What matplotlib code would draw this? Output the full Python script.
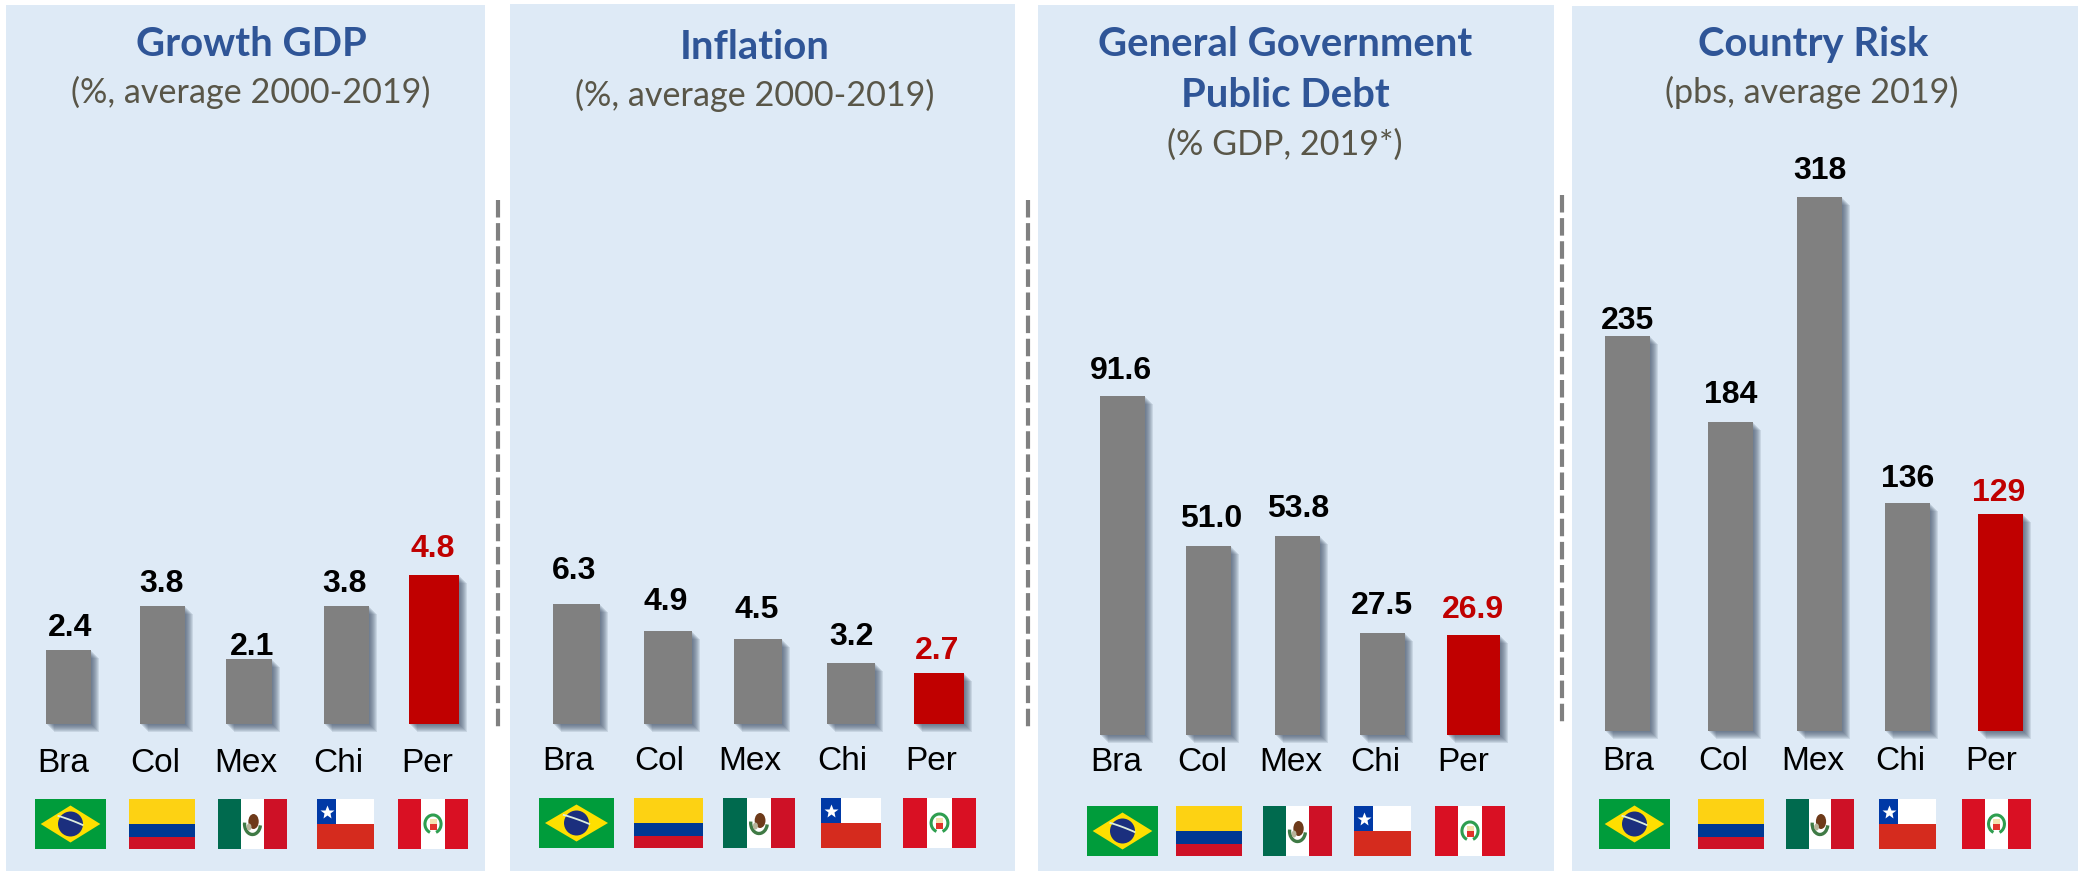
import numpy as np
from matplotlib import pyplot as plt
from matplotlib import patheffects as pe
from matplotlib.patches import Rectangle, Polygon, Circle, Ellipse, Arc

countries = ['Bra', 'Col', 'Mex', 'Chi', 'Per']

gdp_growth = [2.4, 3.8, 2.1, 3.8, 4.8]
inflation = [6.3, 4.9, 4.5, 3.2, 2.7]
public_debt = [91.6, 51.0, 53.8, 27.5, 26.9]
country_risk = [235, 184, 318, 136, 129]

gdp_labels = ['2.4', '3.8', '2.1', '3.8', '4.8']
inflation_labels = ['6.3', '4.9', '4.5', '3.2', '2.7']
debt_labels = ['91.6', '51.0', '53.8', '27.5', '26.9']
risk_labels = ['235', '184', '318', '136', '129']

W, H = 2078, 871
BLUE_BG = '#DEEAF6'
GREY = '#808080'
RED = '#C00000'
TITLE = '#2F5597'
SUB = '#595648'

# one dict per panel, everything in figure pixels except px_per_unit
panels = [
    dict(box=(6, 485, 5), values=gdp_growth, labels=gdp_labels, base=724, px_per_unit=31,
         left=[46, 140, 226, 324, 409], right=[91, 185, 272, 369, 459],
         label_x=[70, 162, 252, 345, 433], gap=[14, 14, 4, 14, 18],
         tick_x=[63, 155, 246, 338, 427], tick_pad=17,
         flags=[(35, 106), (129, 195), (218, 287), (317, 374), (398, 468)], flag_y=799,
         title=[('Growth GDP', 251, 56)], sub=('(%, average 2000-2019)', 251, 103)),
    dict(box=(510, 1015, 4), values=inflation, labels=inflation_labels, base=724, px_per_unit=19,
         left=[553, 644, 734, 827, 914], right=[600, 692, 782, 875, 964],
         label_x=[574, 666, 757, 851, 937], gap=[25, 21, 21, 18, 14],
         tick_x=[568, 659, 750, 842, 931], tick_pad=16,
         flags=[(539, 614), (634, 703), (723, 795), (821, 881), (903, 976)], flag_y=798,
         title=[('Inflation', 755, 59)], sub=('(%, average 2000-2019)', 755, 106)),
    dict(box=(1038, 1554, 5), values=public_debt, labels=debt_labels, base=735, px_per_unit=3.7,
         left=[1100, 1186, 1275, 1360, 1447], right=[1145, 1231, 1320, 1405, 1500],
         label_x=[1121, 1211, 1298, 1382, 1473], gap=[17, 19, 19, 19, 17],
         tick_x=[1116, 1202, 1291, 1375, 1463], tick_pad=8.6,
         flags=[(1087, 1158), (1176, 1242), (1263, 1332), (1354, 1411), (1435, 1505)], flag_y=806,
         title=[('General Government', 1285, 56), ('Public Debt', 1285, 107)],
         sub=('(% GDP, 2019*)', 1285, 155)),
    dict(box=(1572, 2078, 6), values=country_risk, labels=risk_labels, base=731, px_per_unit=1.68,
         left=[1605, 1708, 1797, 1885, 1978], right=[1650, 1753, 1842, 1930, 2023],
         label_x=[1628, 1731, 1820, 1908, 1999], gap=[7, 19, 18, 16, 13],
         tick_x=[1628, 1723, 1813, 1900, 1991], tick_pad=11,
         flags=[(1599, 1670), (1698, 1764), (1786, 1854), (1879, 1936), (1962, 2031)], flag_y=799,
         title=[('Country Risk', 1813, 56)], sub=('(pbs, average 2019)', 1812, 103)),
]
dashes = [(498, 200, 729), (1028, 200, 729), (1562, 195, 723)]


def flag_brazil(ax, x0, x1, y0, y1):
    w, h = x1 - x0, y1 - y0
    cx, cy = (x0 + x1) / 2, (y0 + y1) / 2
    ax.add_patch(Rectangle((x0, y0), w, h, fc='#009C3B', ec='none'))
    ax.add_patch(Polygon([(x0 + 0.08 * w, cy), (cx, y0 + 0.13 * h), (x1 - 0.08 * w, cy), (cx, y1 - 0.13 * h)],
                         fc='#FEDF00', ec='none'))
    ax.add_patch(Circle((cx, cy), 0.25 * h, fc='#1B2F7E', ec='none'))
    t = np.linspace(-1, 1, 20)
    ax.plot(cx + t * 0.17 * w, cy - 0.08 * h + (t + 0.1 * t ** 2) * 0.09 * h, color='#DDEEDD', lw=1.3)


def flag_colombia(ax, x0, x1, y0, y1):
    w, h = x1 - x0, y1 - y0
    ax.add_patch(Rectangle((x0, y0), w, h * 0.5, fc='#FDD213', ec='none'))
    ax.add_patch(Rectangle((x0, y0 + h * 0.5), w, h * 0.25, fc='#003893', ec='none'))
    ax.add_patch(Rectangle((x0, y0 + h * 0.75), w, h * 0.25, fc='#CE1126', ec='none'))


def flag_mexico(ax, x0, x1, y0, y1):
    w, h = x1 - x0, y1 - y0
    cx, cy = (x0 + x1) / 2, (y0 + y1) / 2
    ax.add_patch(Rectangle((x0, y0), w / 3, h, fc='#006A4E', ec='none'))
    ax.add_patch(Rectangle((x0 + w / 3, y0), w / 3, h, fc='white', ec='none'))
    ax.add_patch(Rectangle((x0 + 2 * w / 3, y0), w / 3, h, fc='#CE1126', ec='none'))
    # wreath under the eagle
    ax.add_patch(Arc((cx, cy), 0.23 * w, 0.42 * h, theta1=10, theta2=190, ec='#3F7A45', lw=2.4))
    ax.add_patch(Ellipse((cx + 0.015 * w, cy - 0.05 * h), 0.15 * w, 0.3 * h, fc='#6E3A1A', ec='none'))
    ax.add_patch(Ellipse((cx - 0.05 * w, cy + 0.06 * h), 0.07 * w, 0.14 * h, fc='#B7B39A', ec='none'))


def flag_chile(ax, x0, x1, y0, y1):
    w, h = x1 - x0, y1 - y0
    ax.add_patch(Rectangle((x0, y0), w, h * 0.5, fc='white', ec='none'))
    ax.add_patch(Rectangle((x0, y0 + h * 0.5), w, h * 0.5, fc='#D52B1E', ec='none'))
    ax.add_patch(Rectangle((x0, y0), w / 3, h * 0.5, fc='#0039A6', ec='none'))
    ax.plot([x0 + w / 6], [y0 + h * 0.25], marker='*', ms=10, mfc='white', mec='none')


def flag_peru(ax, x0, x1, y0, y1):
    w, h = x1 - x0, y1 - y0
    cx, cy = (x0 + x1) / 2, (y0 + y1) / 2
    ax.add_patch(Rectangle((x0, y0), w, h, fc='#D91023', ec='none'))
    ax.add_patch(Rectangle((x0 + w / 3, y0), w / 3, h, fc='white', ec='none'))
    ax.add_patch(Arc((cx, cy), 0.23 * w, 0.36 * h, theta1=-250, theta2=70, ec='#2E9E4F', lw=2.2))
    ax.add_patch(Rectangle((cx - 0.05 * w, cy - 0.1 * h), 0.1 * w, 0.1 * h, fc='#F3E3B0', ec='none'))
    ax.add_patch(Rectangle((cx - 0.05 * w, cy), 0.1 * w, 0.11 * h, fc='#E2322B', ec='none'))


draw_flag = [flag_brazil, flag_colombia, flag_mexico, flag_chile, flag_peru]

fig = plt.figure(figsize=(W / 100, H / 100), dpi=100, facecolor='white')

# pixel-space layer for backgrounds, titles, separators and flags
back = fig.add_axes([0, 0, 1, 1])
back.set_xlim(0, W)
back.set_ylim(H, 0)
back.axis('off')

# soft drop shadow, stacked offsets fade out to the lower right
shadow = [pe.SimplePatchShadow(offset=(k * 0.72, -k * 0.72), shadow_rgbFace='#46566B', alpha=0.14)
          for k in range(8, 0, -1)] + [pe.Normal()]

for p in panels:
    x0, x1, top = p['box']
    back.add_patch(Rectangle((x0, top), x1 - x0, H - top, fc=BLUE_BG, ec='none'))
    for text, x, y in p['title']:
        back.text(x, y, text, ha='center', va='baseline', color=TITLE, fontsize=28.8,
                  family='Lato', fontweight='bold')
    text, x, y = p['sub']
    back.text(x, y, text, ha='center', va='baseline', color=SUB, fontsize=24.6, family='Lato')

    flag_h = 50
    for draw, (fx0, fx1) in zip(draw_flag, p['flags']):
        draw(back, fx0, fx1, p['flag_y'], p['flag_y'] + flag_h)

    ax = fig.add_axes([x0 / W, 1 - p['base'] / H, (x1 - x0) / W, p['base'] / H])
    ax.patch.set_alpha(0)
    ax.set_xlim(x0, x1)
    ax.set_ylim(0, p['base'] / p['px_per_unit'])
    for s in ax.spines.values():
        s.set_visible(False)
    ax.set_yticks([])
    ax.set_xticks(p['tick_x'])
    ax.set_xticklabels(countries, family='Liberation Sans', fontsize=24, color='black')
    ax.tick_params(axis='x', length=0, pad=p['tick_pad'])

    lefts, rights = np.array(p['left']), np.array(p['right'])
    colors = [GREY] * 4 + [RED]
    bars = ax.bar((lefts + rights) / 2, p['values'], width=rights - lefts, color=colors, linewidth=0)
    for bar in bars:
        # shadow hangs below the axes bottom
        bar.set_clip_on(False)
        bar.set_path_effects(shadow)
    for val, lab, lx, gap, c in zip(p['values'], p['labels'], p['label_x'], p['gap'], colors):
        ax.annotate(lab, (lx, val), xytext=(0, gap * 0.72), textcoords='offset points',
                    ha='center', va='baseline', family='Liberation Sans', fontweight='bold',
                    fontsize=23, color='black' if c == GREY else RED)

for x, y0, y1 in dashes:
    back.plot([x, x], [y0, y1], color=GREY, lw=3, linestyle=(0, (4.2, 1.35)), solid_capstyle='butt')

fig.savefig('out.png', dpi=100)
